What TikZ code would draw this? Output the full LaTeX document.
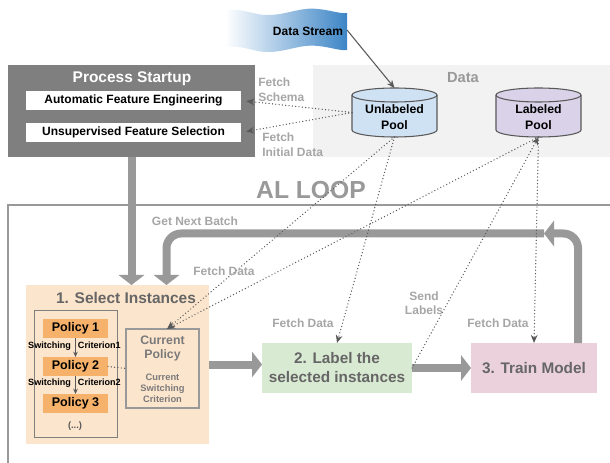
\documentclass[tikz,border=0pt]{standalone}
\usepackage{fontspec}
\setmainfont{Liberation Sans}
\usetikzlibrary{arrows.meta,fit}
\definecolor{bggray}{HTML}{F2F2F2}
\definecolor{startgray}{HTML}{7F7F7F}
\definecolor{arrgray}{HTML}{999999}
\definecolor{lblgray}{HTML}{A6A6A6}
\definecolor{dotgray}{HTML}{595959}
\definecolor{darktext}{HTML}{666666}
\definecolor{cptext}{HTML}{7A7A7A}
\definecolor{unlfill}{HTML}{CFE2F3}
\definecolor{labfill}{HTML}{D9D2E9}
\definecolor{peach}{HTML}{FCE5CD}
\definecolor{orangep}{HTML}{F6B26B}
\definecolor{greenb}{HTML}{D9EAD3}
\definecolor{pinkb}{HTML}{EAD1DC}
\definecolor{streamblue}{HTML}{3D85C6}
\newcommand{\fsz}[2]{\fontsize{#1pt}{#2pt}\selectfont\bfseries}
\begin{document}
\begin{tikzpicture}[x=0.75pt,y=-0.75pt,
  box/.style={inner sep=0pt, outer sep=0pt},
  txt/.style={inner sep=0pt, align=center},
  thickarrow/.style={draw=arrgray, line width=6pt, -{Triangle[width=19pt,length=7.5pt]}},
  dotarrow/.style={draw=dotgray, line width=1.05pt, line cap=round, dash pattern=on 0pt off 2.5pt, -{Stealth[length=6pt,width=5pt]}},
  dotline/.style={draw=dotgray, line width=1.05pt, line cap=round, dash pattern=on 0pt off 2.5pt},
  glabel/.style={text=lblgray, font=\fsz{9}{11}, inner sep=0pt},
  cylpath/.style={fill=#1, draw=dotgray, line width=0.8pt}
]
\useasboundingbox (0,0) rectangle (610,463);

% Data background
\node[box, fill=bggray, fit={(313,65) (610,157)}] (databg) {};
\node[text=arrgray, font=\fsz{11}{13}] (datat) at (463,78) {Data};

% AL loop frame
\draw[arrgray, line width=1.1pt] (612,205) -- (8,205) -- (8,466);
\node[text=arrgray, font=\fsz{18.5}{20}] (alloop) at (311,190) {AL LOOP};

% Data stream
\shade[left color=white, right color=streamblue]
  (225,10) .. controls (245,8) and (255,16) .. (270,15)
  .. controls (290,14) and (300,7) .. (318,9)
  .. controls (330,10) and (340,14) .. (347,13) -- (347,50)
  .. controls (340,51) and (330,47) .. (318,46)
  .. controls (300,44) and (290,51) .. (270,52)
  .. controls (255,53) and (245,45) .. (225,47) -- cycle;
\node[font=\fsz{9}{10}] (ds) at (308,31) {Data Stream};
\coordinate (dsr) at (347,30);

% Process startup
\node[box, fill=startgray, fit={(8,65) (255,157)}] (ps) {};
\node[text=white, font=\fsz{11.6}{13}] (pst) at (132,79) {Process Startup};
\node[box, fill=white, fit={(26,91) (241,110)}] (afe) {};
\node[txt, font=\fsz{9}{10}] (afet) at (afe) {Automatic Feature Engineering};
\node[box, fill=white, fit={(26,123) (241,142)}] (usf) {};
\node[txt, font=\fsz{9}{10}] (usft) at (usf) {Unsupervised Feature Selection};

% Cylinders
\path[cylpath=unlfill] (352,95) -- (352,130) arc[start angle=180,end angle=0,x radius=42.5,y radius=7]
  -- (437,95) arc[start angle=0,end angle=-180,x radius=42.5,y radius=7] -- cycle;
\draw[dotgray, line width=0.8pt] (352,95) arc[start angle=180,end angle=0,x radius=42.5,y radius=7];
\node[box, fit={(352,88) (437,137)}] (unl) {};
\node[txt, font=\fsz{9.2}{12}] (unlt) at (394.5,117) {Unlabeled\\Pool};

\path[cylpath=labfill] (496,95) -- (496,130) arc[start angle=180,end angle=0,x radius=42.5,y radius=7]
  -- (581,95) arc[start angle=0,end angle=-180,x radius=42.5,y radius=7] -- cycle;
\draw[dotgray, line width=0.8pt] (496,95) arc[start angle=180,end angle=0,x radius=42.5,y radius=7];
\node[box, fit={(496,88) (581,137)}] (lab) {};
\node[txt, font=\fsz{9.2}{12}] (labt) at (538.5,117) {Labeled\\Pool};

\draw[dotgray, line width=0.8pt, -{Stealth[length=6pt,width=5pt]}] (dsr) -- (unl.north);

% Select instances
\node[box, fill=peach, fit={(26,285) (209,444)}] (si) {};
\node[text=darktext, font=\fsz{11.6}{13}] (sit) at (126,298) {1. Select Instances};
\node[box, draw=startgray, line width=0.6pt, fit={(34,310) (117,437)}] (pf) {};
\node[box, fill=orangep, fit={(43,319) (108,338)}] (p1) {};
\node[txt, font=\fsz{9.4}{11}] (p1t) at (p1) {Policy 1};
\node[box, fill=orangep, fit={(43,357) (108,376)}] (p2) {};
\node[txt, font=\fsz{9.4}{11}] (p2t) at (p2) {Policy 2};
\node[box, fill=orangep, fit={(43,394) (108,413)}] (p3) {};
\node[txt, font=\fsz{9.4}{11}] (p3t) at (p3) {Policy 3};
\draw[dotgray, line width=0.6pt, -{Stealth[length=4pt,width=3.5pt]}] (p1.south) -- (p2.north);
\draw[dotgray, line width=0.6pt, -{Stealth[length=4pt,width=3.5pt]}] (p2.south) -- (p3.north);
\node[txt, font=\fsz{6.8}{8}] (sc1) at (74.5,346) {Switching\hspace{5.2pt}Criterion1};
\node[txt, font=\fsz{6.8}{8}] (sc2) at (74.5,383.5) {Switching\hspace{5.2pt}Criterion2};
\node[txt, font=\fsz{7}{8}, text=dotgray] (etc) at (75,426) {(...)};
\node[box, draw=arrgray, line width=0.8pt, fit={(126,329) (199,408)}] (cp) {};
\node[txt, text=cptext, font=\fsz{9.2}{10.5}] (cpt) at (162.5,348) {Current\\Policy};
\node[txt, text=cptext, font=\fsz{7}{8.25}] (cps) at (162.5,388) {Current\\Switching\\Criterion};
\coordinate (cpin) at (167,329);
\draw[dotline] (p2.east) -- (cp.west);

% Label and train
\node[box, fill=greenb, fit={(262,343) (412,393)}] (lb) {};
\node[txt, text=darktext, font=\fsz{11.5}{14.25}] (lbt) at (lb) {2. Label the\\selected instances};
\node[box, fill=pinkb, fit={(471,343) (597,393)}] (tm) {};
\node[txt, text=darktext, font=\fsz{11.5}{14}] (tmt) at (tm) {3. Train Model};
\coordinate (tmo) at (578,343);
\coordinate (gnb) at (544,233.5);
\coordinate (sii) at (166.5,285);

% Thick arrows
\draw[thickarrow] (ps.south) -- (ps.south |- si.north);
\draw[thickarrow, rounded corners=11pt] (tmo) |- (gnb);
\draw[thickarrow, rounded corners=11pt] (gnb) -| (sii);
\draw[thickarrow] (si.east) -- (si.east -| lb.west);
\draw[thickarrow] (lb.east) -- (tm.west);

% Dotted connectors
\draw[dotarrow, shorten >=4pt] (unl.west) -- (afe.east);
\draw[dotarrow, shorten >=4pt] (unl.west) -- (usf.east);
\draw[dotarrow] (unl.south) -- (cpin);
\draw[dotarrow] (lab.south) -- (cpin);
\draw[dotarrow] (unl.south) -- (lb.north);
\draw[dotarrow] (lab.south) -- (tm.north);
\draw[dotarrow] (lb.east) -- (lab.south);

% Labels
\node[glabel, align=left, anchor=west] (fsch) at (258,89.5) {Fetch\\Schema};
\node[glabel, align=left, anchor=west] (fini) at (262,145) {Fetch\\Initial Data};
\node[glabel] (gnbt) at (195,221) {Get Next Batch};
\node[glabel] (fd1) at (224,271) {Fetch Data};
\node[glabel] (fd2) at (303,323) {Fetch Data};
\node[glabel] (fd3) at (498,323) {Fetch Data};
\node[glabel, align=center, font=\fsz{9}{10.5}] (sl) at (424,303) {Send\\Labels};
\end{tikzpicture}
\end{document}
